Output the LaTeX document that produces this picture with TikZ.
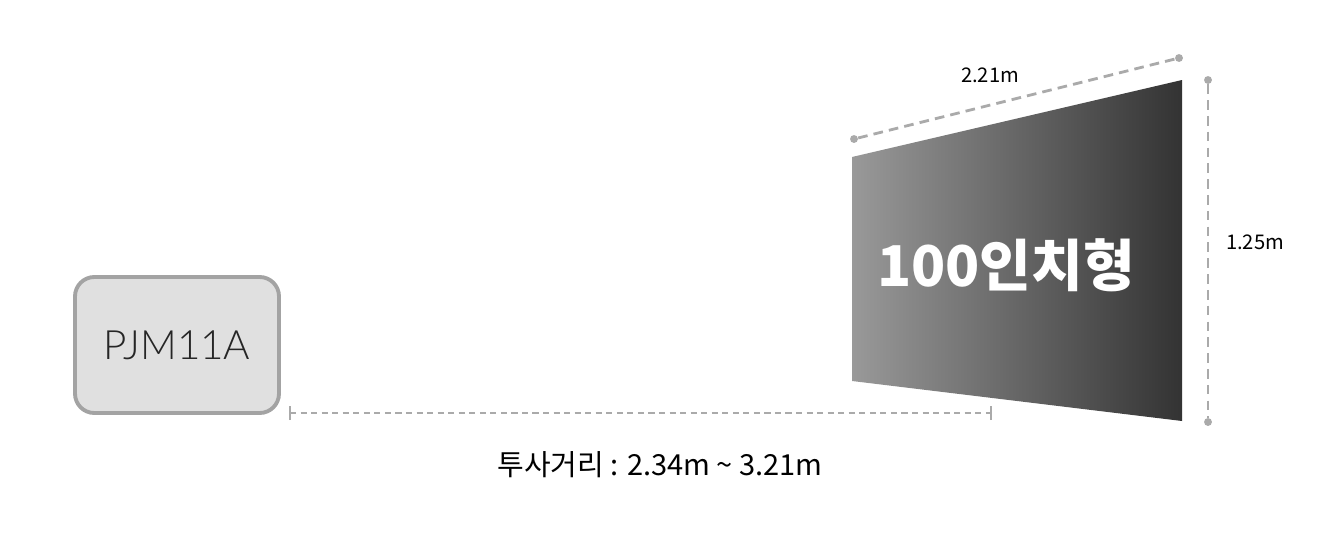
\documentclass[tikz,border=0pt]{standalone}
\usepackage{fontspec}
\usetikzlibrary{positioning}
\newfontfamily\krfont{Noto Sans CJK KR}
\newfontfamily\modelfont{Lato}[UprightFont=* Light]
\definecolor{dimgray}{HTML}{AAAAAA}
\definecolor{boxfill}{HTML}{E0E0E0}
\definecolor{boxline}{HTML}{A3A3A3}
\tikzset{
  dimline/.style={draw=dimgray, line width=1.6pt, dash pattern=on 5.5pt off 3.5pt},
  distline/.style={draw=dimgray, line width=1.1pt, dash pattern=on 3.5pt off 2.5pt},
  enddot/.style={circle, fill=dimgray, inner sep=0pt, minimum size=4.5pt},
  dimlabel/.style={font=\krfont\fontsize{11.5}{13}\selectfont, text=black},
}
\begin{document}
\begin{tikzpicture}[x=0.02cm, y=-0.02cm]
  \useasboundingbox (0,0) rectangle (1320,535);

  % projector
  \node[draw=boxline, fill=boxfill, line width=2.2pt, rounded corners=11pt,
        minimum width=204*0.02cm, minimum height=136*0.02cm,
        font=\modelfont\fontsize{23}{26}\selectfont, text=black!85] (proj) at (177,345) {PJM11A};

  % screen corners
  \coordinate (tl) at (852,157);
  \coordinate (tr) at (1182,80);
  \coordinate (br) at (1182,421);
  \coordinate (bl) at (852,381);
  \shade[left color=black!40, right color=black!80] (tl) -- (tr) -- (br) -- (bl) -- cycle;
  \node[font=\krfont\bfseries\fontsize{32}{36}\selectfont, text=white] (size) at (1006,265) {100인치형};

  % width
  \node[enddot] (wa) at (854,139) {};
  \node[enddot] (wb) at (1179,58) {};
  \draw[dimline] (wa) -- (wb);
  \node[dimlabel] (wlabel) at (990,75) {2.21m};

  % height
  \node[enddot] (ha) at (1208,80) {};
  \node[enddot] (hb) at (1208,422) {};
  \draw[dimline] (ha) -- (hb);
  \node[dimlabel] (hlabel) at (1255,242) {1.25m};

  % throw distance
  \coordinate (da) at (290,413);
  \coordinate (db) at (991,413);
  \draw[distline] (da) -- (db);
  \draw[draw=dimgray, line width=1.1pt] ([yshift=-4pt]da) -- ([yshift=4pt]da);
  \draw[draw=dimgray, line width=1.1pt] ([yshift=-4pt]db) -- ([yshift=4pt]db);
  \node[font=\krfont\fontsize{16.5}{19}\selectfont, text=black] (dist) at (660,465) {투사거리 : 2.34m \textasciitilde{} 3.21m};
\end{tikzpicture}
\end{document}
